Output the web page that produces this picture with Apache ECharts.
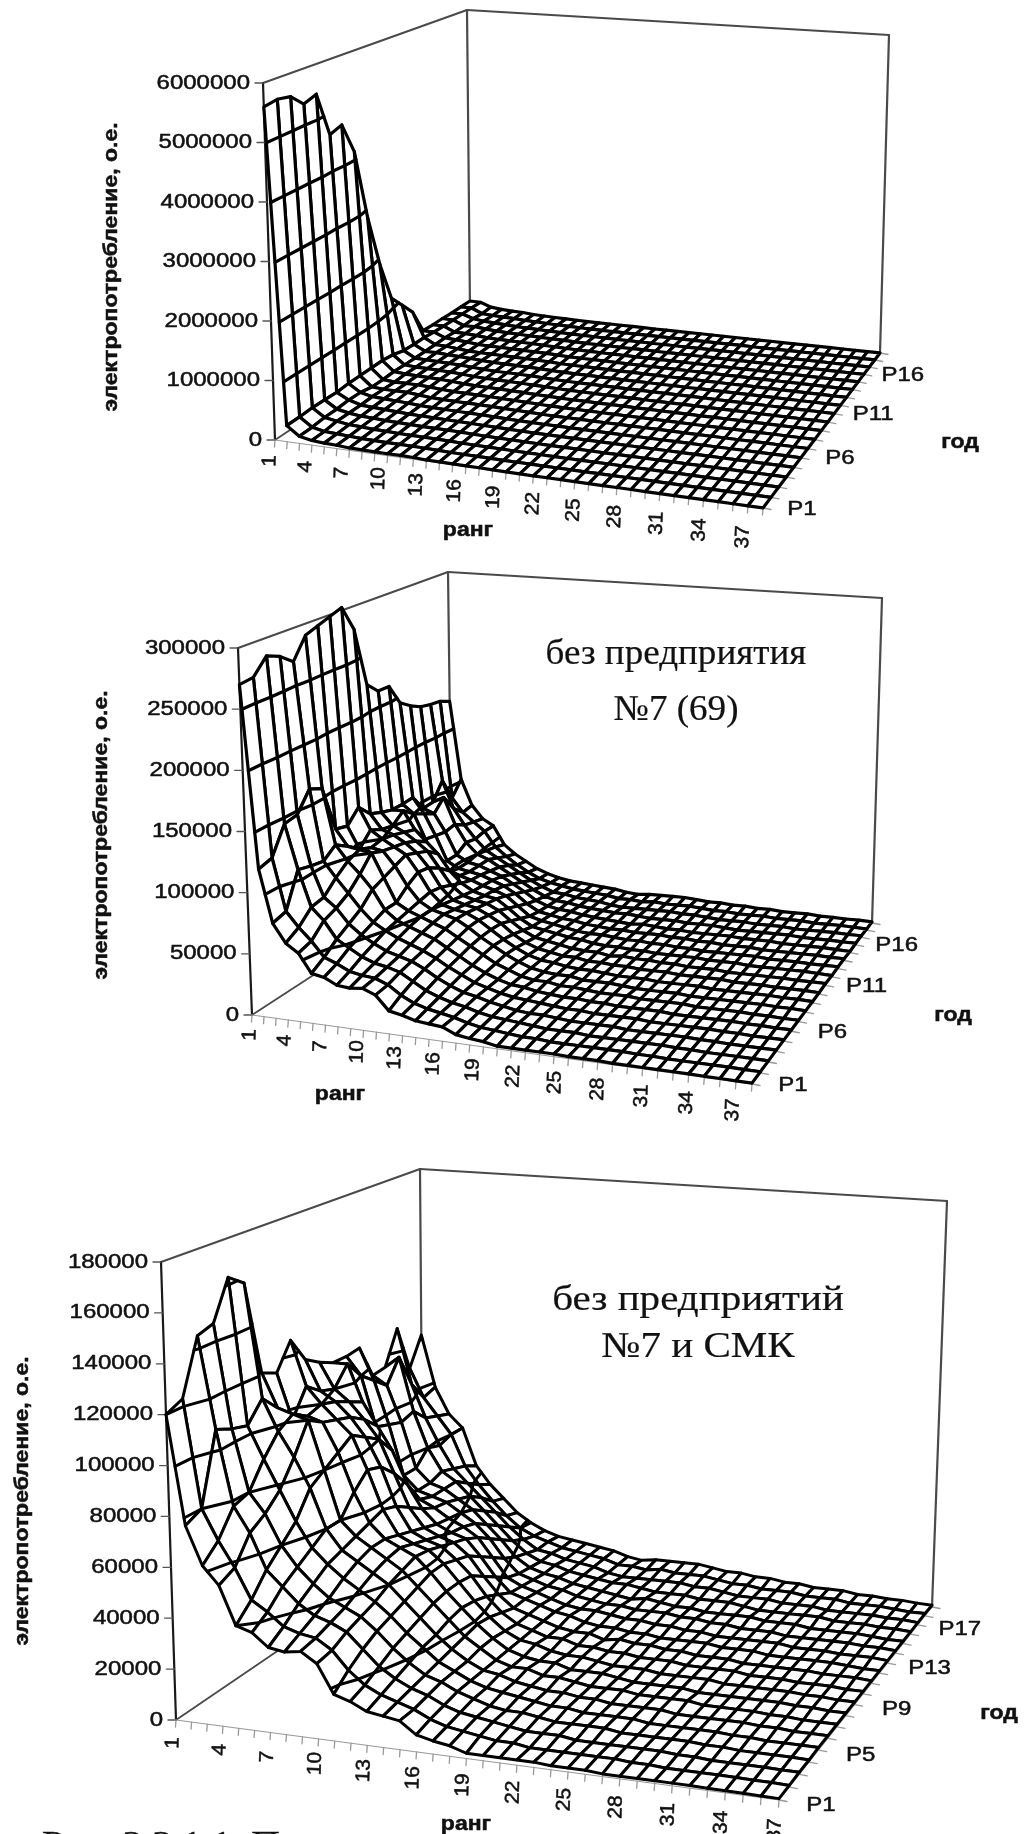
<!DOCTYPE html>
<html><head><meta charset="utf-8">
<style>html,body{margin:0;padding:0;background:#fff}#c{width:1026px;height:1834px}</style>
<script src="https://cdn.jsdelivr.net/npm/echarts@6/dist/echarts.min.js"></script>
</head><body><div id="c"></div>
<script>
// ---------- data (thousands, o.e.), one list per rank, P1..P19 ----------
const years = ['P1','P2','P3','P4','P5','P6','P7','P8','P9','P10','P11','P12','P13','P14','P15','P16','P17','P18','P19'];
const rankTicks = [1,4,7,10,13,16,19,22,25,28,31,34,37];
const yearTicks1 = ['P1','P6','P11','P16'];
const yearTicks3 = ['P1','P5','P9','P13','P17'];
const valueTicks1 = [0,1000000,2000000,3000000,4000000,5000000,6000000];
const valueTicks2 = [0,50000,100000,150000,200000,250000,300000];
const valueTicks3 = [0,20000,40000,60000,80000,100000,120000,140000,160000,180000];
// enterprise №7
const rankA = [5600,5630,5580,5360,5440,4640,4720,4150,2880,1910,1170,920,670,200,190,190,180,180,180];
// next enterprise (СМК)
const rankB = [270,271,284,279,270,288,292,296,300,277,224,214,214,195,188,183,181,180,176];
// the remaining enterprises
const restRanks = [
[120,123,145,147,163,158,118,115,126,115,111,108,108,109,94,95,110,89,102],
[77,80,108,105,103,111,104,96,107,102,100,108,100,95,90,100,85,76,78],
[62,68,78,80,90,98,102,98,100,98,95,92,78,76,74,76,70,68,66],
[55,58,68,72,78,88,100,96,94,92,88,82,56,54,54,60,58,60,60],
[40,46,54,60,66,76,80,84,88,84,80,72,50,48,48,50,48,46,43],
[38,42,48,52,56,60,60,68,74,72,66,58,48,46,46,46,42,38,35],
[33,37,42,46,50,52,54,56,58,56,52,48,45,44,42,40,36,31,29],
[32,35,38,41,45,48,50,50,48,46,44,42,41,40,38,34,30,25,23],
[33,34,36,38,41,44,46,47,45,43,41,39,38,36,32,28,24,20,19],
[29,30,33,35,37,40,42,44,43,41,39,37,34,30,26,22,19,17,16],
[18,23,27,30,32,34,36,38,38,36,34,30,26,22,19,17,15,15,14],
[16,18,21,24,26,28,30,31,31,30,26,22,18,16,15,14,14,13,13],
[13,15,17,19,21,22,24,25,24,22,19,16,15,14,13,13,12,12,12],
[12,13,14,15,16,17,18,19,18,16,14,14,13,12,12,11,11,11,11],
[11,11,12,13,13,13,14,14,13,12,12,12,11,11,10,10,10,10,10],
[6.5,8,9,10,10,10,10,10,10,10,10,10,9,9,9,9,8,8,8],
[5,6,7,8,8,9,8,8,9,8,8,9,8,8,8,8,7,8,7],
[4,5,6,6,7,7,8,7,7,8,7,7,8,7,7,8,7,7,8],
[2,4,5,5,6,6,6,7,6,6,7,6,7,7,6,7,7,8,8],
[2,3,4,5,5,5,6,5,6,6,5,6,6,6,7,6,7,7,8],
[2,3,3,4,4,5,5,5,5,5,6,5,6,6,6,6,7,7,8],
[2,2,3,3,4,4,4,5,4,5,5,5,5,6,5,6,6,7,7],
[2,2,3,3,3,4,4,4,4,4,5,4,5,5,5,5,6,6,6],
[1.5,2,2,3,3,3,4,3,4,4,4,4,4,5,4,5,5,5,6],
[1.5,2,2,3,3,3,3,3,3,4,4,4,4,4,4,5,4,5,5],
[1.5,2,2,2,3,3,3,3,3,3,3,4,3,4,4,4,4,4,5],
[1,2,2,2,2,3,3,3,3,3,3,3,3,3,4,3,4,4,4],
[1,1.5,2,2,2,2,3,2,3,3,3,3,3,3,3,3,3,4,4],
[1,1.5,2,2,2,2,2,2,2,3,2,3,3,3,3,3,3,3,3],
[1,1,1.5,2,2,2,2,2,2,2,2,2,3,2,3,3,3,3,3],
[1,1,1.5,1.5,2,2,2,2,2,2,2,2,2,2,2,3,2,3,3],
[1,1,1,1.5,1.5,2,2,2,2,2,2,2,2,2,2,2,2,2,2],
[.8,1,1,1,1.5,1.5,1.5,2,2,1.5,2,2,2,2,2,2,2,2,2],
[.8,1,1,1,1,1.5,1.5,1.5,1.5,1.5,1.5,2,1.5,2,2,2,2,2,1.5],
[.7,.8,1,1,1,1,1,1.5,1.5,1.5,1.5,1.5,1.5,1.5,1.5,1.5,1.5,1.5,1.5],
[.6,.8,.8,1,1,1,1,1,1,1,1.5,1,1.5,1.5,1,1.5,1.5,1,1],
[.5,.6,.8,.8,1,1,1,1,1,1,1,1,1,1,1,1,1,1,.8]
];
const matrix1 = [rankA, rankB].concat(restRanks.slice(0,35));
const matrix2 = [rankB].concat(restRanks.slice(0,36));
const matrix3 = restRanks;
const valueTitle = 'электропотребление, о.е.';
const rankTitle = 'ранг';
const yearTitle = 'год';

// ---------- layout of the three oblique boxes ----------
const charts = [
 {m:matrix1, vt:valueTicks1, yt:yearTicks1, max:6000000, mesh:3.2,
  FL:[275,440],FR:[763,508],BR:[880,353],BL:[470,310], tFL:[263,83],tBL:[467,10],tBR:[889,35],
  rOff:[[-5,21],[-20,29]], yOff:[39,1], title:[111,267], rankPos:[468,530], yearPos:[960,442], notes:[]},
 {m:matrix2, vt:valueTicks2, yt:yearTicks1, max:300000, mesh:3.2,
  FL:[252,1015],FR:[752,1084],BR:[872,923],BL:[452,885], tFL:[238,648],tBL:[448,572],tBR:[882,598],
  rOff:[[-2,20],[-19,26]], yOff:[41,1], title:[101,835], rankPos:[340,1094], yearPos:[953,1015],
  notes:[['без предприятия',676,655,1.03],['№7 (69)',676,711,1.03]]},
 {m:matrix3, vt:valueTicks3, yt:yearTicks3, max:180000, mesh:3,
  FL:[176,1720],FR:[779,1800],BR:[932,1607],BL:[423,1552], tFL:[161,1262],tBL:[420,1169],tBR:[947,1201],
  rOff:[[-3,23],[-4,30]], yOff:[42,5], title:[22,1501], rankPos:[466,1824], yearPos:[999,1713],
  notes:[['без предприятий',698,1301,1.14],['№7 и СМК',698,1348,1.14]]}
];
const NR = 37, NP = years.length;
charts.forEach(function(c){
  const p0=c.FL,p1=c.FR,p2=c.BR,p3=c.BL;
  const sx=p0[0]-p1[0]+p2[0]-p3[0], sy=p0[1]-p1[1]+p2[1]-p3[1];
  const dx1=p1[0]-p2[0], dy1=p1[1]-p2[1], dx2=p3[0]-p2[0], dy2=p3[1]-p2[1];
  const det=dx1*dy2-dy1*dx2;
  c.g=(sx*dy2-sy*dx2)/det; c.h=(dx1*sy-dy1*sx)/det;
  c.a=p1[0]-p0[0]+c.g*p1[0]; c.b=p3[0]-p0[0]+c.h*p3[0];
  c.d=p1[1]-p0[1]+c.g*p1[1]; c.e=p3[1]-p0[1]+c.h*p3[1];
  c.vFL=[c.tFL[0]-p0[0],c.tFL[1]-p0[1]];
  c.vBL=[c.tBL[0]-p3[0],c.tBL[1]-p3[1]];
  c.vBR=[c.tBR[0]-p2[0],c.tBR[1]-p2[1]];
  const wFR=c.g+1;
  c.vFR=[c.vFL[0]+c.vBR[0]-c.vBL[0], c.vFL[1]/wFR];
});
// (rank index, year index, value) -> oblique position in the axes' units
function proj(c,r,p,val){
  const u=r/(NR-1), v=p/(NP-1), w=c.g*u+c.h*v+1;
  const x=(c.a*u+c.b*v+c.FL[0])/w, y=(c.d*u+c.e*v+c.FL[1])/w, t=val/c.max;
  const hx=(1-u)*(1-v)*c.vFL[0]+u*(1-v)*c.vFR[0]+u*v*c.vBR[0]+(1-u)*v*c.vBL[0];
  const hy=(1-u)*(1-v)*c.vFL[1]+u*(1-v)*c.vFR[1]+u*v*c.vBR[1]+(1-u)*v*c.vBL[1];
  return [x+hx*t,y+hy*t];
}
const INK='#000', WALL='#4a4a4a', TICK='#999';
function line(api,a,b,color,width){
  const A=api.coord(a),B=api.coord(b);
  return {type:'line',shape:{x1:A[0],y1:A[1],x2:B[0],y2:B[1]},style:{stroke:color,lineWidth:width,lineCap:'round',fill:null}};
}
function label(api,pt,text,font,sx,rot,align,heavy){
  const P=api.coord(pt);
  return {type:'text',x:P[0],y:P[1],rotation:rot||0,scaleX:sx||1,scaleY:1,
    style:{text:text,font:font,fill:'#111',stroke:'#111',lineWidth:heavy===undefined?0.5:heavy,align:align||'center',verticalAlign:'middle'}};
}
function cellItem(c,api){
  const r=api.value(0), p=api.value(1);
  const corners=[[r,p],[r+1,p],[r+1,p+1],[r,p+1]];
  const vals=corners.map(function(q){return c.m[q[0]][q[1]]*1000;});
  const pts=corners.map(function(q,i){return api.coord(proj(c,q[0],q[1],vals[i]));});
  const children=[{type:'polygon',shape:{points:pts},
    style:{fill:'#fff',stroke:INK,lineWidth:c.mesh,lineJoin:'round'}}];
  // contour at every major unit of the value axis, as the surface chart draws
  c.vt.slice(1).forEach(function(lv){
    const hits=[];
    for(let i=0;i<4;i++){
      const j=(i+1)%4, a=vals[i], b=vals[j];
      if((a<lv&&b>=lv)||(a>=lv&&b<lv)){
        const t=(lv-a)/(b-a);
        hits.push([pts[i][0]+(pts[j][0]-pts[i][0])*t,pts[i][1]+(pts[j][1]-pts[i][1])*t]);
      }
    }
    for(let k=0;k+1<hits.length;k+=2){
      children.push({type:'line',shape:{x1:hits[k][0],y1:hits[k][1],x2:hits[k+1][0],y2:hits[k+1][1]},
        style:{stroke:INK,lineWidth:c.mesh,lineCap:'round',fill:null}});
    }
  });
  return {type:'group',children:children};
}
function frameItem(c,api,isLast){
  const ch=[];
  const F=function(r,p){return proj(c,r,p,0);};
  ch.push(line(api,c.FL,c.BL,WALL,1.8));
  ch.push(line(api,c.BL,c.BR,WALL,1.8));
  ch.push(line(api,c.BL,c.tBL,WALL,2.2));
  ch.push(line(api,c.BR,c.tBR,WALL,2.2));
  ch.push(line(api,c.tFL,c.tBL,WALL,2));
  ch.push(line(api,c.tBL,c.tBR,WALL,2));
  ch.push(line(api,c.FL,c.tFL,'#1a1a1a',2.2));
  ch.push(line(api,c.FL,c.FR,TICK,1.2));
  ch.push(line(api,c.FR,c.BR,TICK,1.2));
  c.vt.forEach(function(v){
    const P=proj(c,0,0,v);
    ch.push(line(api,P,[P[0]-8,P[1]],'#555',1.3));
    ch.push(label(api,[P[0]-13,P[1]],String(v),'20px "Liberation Sans"',1.2,0,'right'));
  });
  for(let r=0;r<NR;r++){
    const P=F(r,0);
    ch.push(line(api,P,[P[0]-0.5,P[1]+7],TICK,1.3));
  }
  rankTicks.forEach(function(t){
    const r=t-1, P=F(r,0), f=r/(NR-1);
    const ox=c.rOff[0][0]+(c.rOff[1][0]-c.rOff[0][0])*f, oy=c.rOff[0][1]+(c.rOff[1][1]-c.rOff[0][1])*f;
    ch.push(label(api,[P[0]+ox,P[1]+oy],String(t),'20px "Liberation Sans"',1.05,88*Math.PI/180));
  });
  for(let p=0;p<NP;p++){
    const P=F(NR-1,p);
    ch.push(line(api,P,[P[0]+8,P[1]+1.5],TICK,1.3));
  }
  c.yt.forEach(function(n){
    const P=F(NR-1,years.indexOf(n));
    ch.push(label(api,[P[0]+c.yOff[0],P[1]+c.yOff[1]],n,'20px "Liberation Sans"',1.2));
  });
  ch.push(label(api,c.title,valueTitle,'bold 20px "Liberation Sans"',1.15,Math.PI/2));
  ch.push(label(api,c.rankPos,rankTitle,'bold 20px "Liberation Sans"',1.15));
  ch.push(label(api,c.yearPos,yearTitle,'bold 20px "Liberation Sans"',1.15));
  c.notes.forEach(function(n){
    ch.push(label(api,[n[1],n[2]],n[0],'36px "Liberation Serif"',n[3],0,'center',0.2));
  });
  if(isLast){
    ch.push(label(api,[42,1845],'Рис. 2.2.1.1. П','33px "Liberation Serif"',1.2,0,'left',0.4));
  }
  return {type:'group',children:ch};
}
const cellData=[];
for(let p=NP-2;p>=0;p--){for(let r=0;r<NR-1;r++){cellData.push([r,p]);}}
const series=[];
charts.forEach(function(c,idx){
  series.push({type:'custom',name:'frame'+(idx+1),coordinateSystem:'cartesian2d',clip:false,silent:true,z:1,
    data:[[0,0]],renderItem:function(params,api){return frameItem(c,api,idx===2);}});
  series.push({type:'custom',name:'surface'+(idx+1),coordinateSystem:'cartesian2d',clip:false,silent:true,z:2,
    progressive:0,data:cellData,renderItem:function(params,api){return cellItem(c,api);}});
});
const chart=echarts.init(document.getElementById('c'),null,{renderer:'canvas'});
chart.setOption({
  animation:false,backgroundColor:'#fff',
  grid:{left:0,top:0,right:0,bottom:0},
  xAxis:{type:'value',min:0,max:1026,show:false},
  yAxis:{type:'value',min:0,max:1834,inverse:true,show:false},
  series:series
});
</script></body></html>
